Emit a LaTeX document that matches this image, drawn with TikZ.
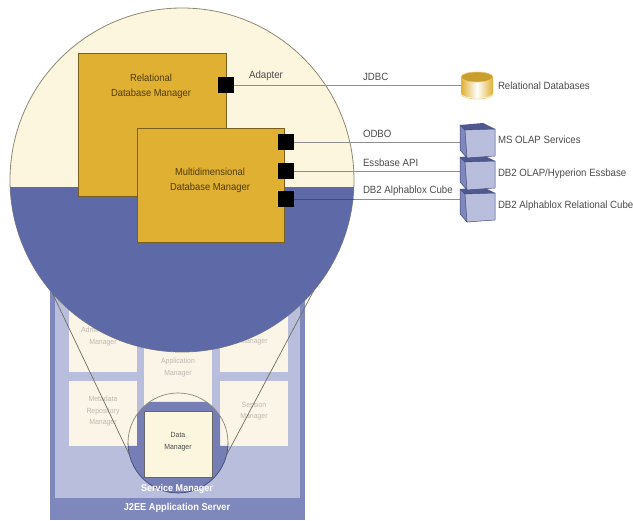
\documentclass[tikz,border=0pt]{standalone}
\usepackage{fontspec}
\setmainfont{Liberation Sans}[FakeStretch=0.92]
\usepackage{xcolor}
\definecolor{lensCream}{HTML}{FDF6DF}
\definecolor{lensBlue}{HTML}{5E69A8}
\definecolor{lensEdge}{HTML}{8C8A70}
\definecolor{mgrGold}{HTML}{E0B032}
\definecolor{mgrEdge}{HTML}{7A5F1E}
\definecolor{mgrInk}{HTML}{4F3C0C}
\definecolor{serverBlue}{HTML}{7F88BC}
\definecolor{serviceBlue}{HTML}{B9BEDC}
\definecolor{paleBox}{HTML}{FBF5E8}
\definecolor{paleInk}{HTML}{BDB8B0}
\definecolor{wireGray}{HTML}{8E8E8E}
\definecolor{labelInk}{HTML}{4A4A4A}
\usetikzlibrary{positioning}

\begin{document}
\begin{tikzpicture}[
  x=1pt, y=-1pt,
  every node/.style={inner sep=0pt, outer sep=0pt},
  manager/.style={rectangle, draw=mgrEdge, fill=mgrGold, line width=0.8pt, anchor=north west},
  mgrtext/.style={font=\fontsize{10.2}{15}\selectfont, text=mgrInk, align=center},
  port/.style={rectangle, fill=black, minimum size=16pt},
  wire/.style={draw=wireGray, line width=0.8pt},
  wirelabel/.style={font=\fontsize{10.5}{12}\selectfont, text=labelInk, anchor=west},
  storelabel/.style={font=\fontsize{10.5}{12}\selectfont, text=labelInk, anchor=west},
  palebox/.style={rectangle, fill=paleBox, anchor=north west},
  paletext/.style={font=\fontsize{7.5}{11.5}\selectfont, text=paleInk, align=center},
  lensline/.style={draw=lensEdge!80!black, line width=0.7pt},
  server/.style={font=\fontsize{10}{12}\selectfont\bfseries, text=white},
  olapcube/.pic={
    \fill[serviceBlue] (5,5) -- (35,4) -- (35,31) -- (7,33) -- cycle;
    \fill[serverBlue] (0,0) -- (5,5) -- (7,33) -- (0,25) -- cycle;
    \fill[lensBlue!85!black] (0,0) -- (23,-2) -- (35,4) -- (5,5) -- cycle;
    \draw[lensBlue!70!black, line width=0.5pt] (0,0) -- (5,5) -- (7,33) -- (0,25) -- cycle
      (5,5) -- (35,4) -- (35,31) -- (7,33);
  },
]
\useasboundingbox (0,0) rectangle (633,521);

% Application server with its manager boxes
\fill[serverBlue] (50,270) rectangle (305,520);
\fill[serviceBlue] (55,270) rectangle (300,498);
\node[server] (j2ee) at (177,508) {J2EE Application Server};

\node[palebox, minimum width=68pt, minimum height=72pt] (admin) at (69,300) {};
\node[palebox, minimum width=68pt, minimum height=110pt] (appl) at (144,300) {};
\node[palebox, minimum width=68pt, minimum height=72pt] (user) at (220,300) {};
\node[palebox, minimum width=68pt, minimum height=65pt] (meta) at (69,381) {};
\node[palebox, minimum width=68pt, minimum height=65pt] (sess) at (220,381) {};
\node[paletext] (adminText) at (103,336.5) {Administration\\Manager};
\node[paletext] (applText) at (178,367.5) {Application\\Manager};
\node[paletext] (userText) at (254,342) {Manager};
\node[paletext] (metaText) at (103,411.5) {Metadata\\Repository\\Manager};
\node[paletext] (sessText) at (254,411) {Session\\Manager};

% Small lens round the data manager
\node[circle, minimum size=100pt] (dataLens) at (178,443) {};
\begin{scope}
  \clip (178,443) circle (50);
  \fill[serverBlue!70!lensBlue] (137,402) -- (220,402) -- (220,446) -- (240,446)
    -- (240,500) -- (116,500) -- (116,446) -- (137,446) -- cycle;
\end{scope}
\node[rectangle, draw=black!60, fill=lensCream, line width=0.5pt, anchor=north west,
      minimum width=68pt, minimum height=66pt] (data) at (144,411) {};
\node[font=\fontsize{7.5}{11.5}\selectfont, text=black!70, align=center] (dataText)
      at (178,441.5) {Data\\Manager};
\draw[lensline, draw=lensEdge] (dataLens.180) arc (180:360:50);
\draw[lensline, draw=lensBlue!70!black] (dataLens.180) arc (180:0:50);
\node[server, font=\fontsize{9.8}{12}\selectfont\bfseries] (service) at (177,489) {Service Manager};

% Big lens, upper half cream and lower half blue
\node[circle, draw=lensEdge, fill=lensCream, line width=0.8pt, minimum size=344pt] (bigLens) at (182,180) {};
\begin{scope}
  \clip (182,180) circle (172);
  \fill[lensBlue] (0,187) rectangle (360,360);
\end{scope}
\draw[lensline] (bigLens.221) -- (dataLens.194);
\draw[lensline] (bigLens.320) -- (dataLens.346);

% Stores on the right
\coordinate (cubeA) at (460,125);
\coordinate (cubeB) at (460,157);
\coordinate (cubeC) at (460,189);
\coordinate (relDb) at (461,85);

% Managers
\node[manager, minimum width=148pt, minimum height=143pt] (relMgr) at (78,53) {};
\node[manager, minimum width=147pt, minimum height=114pt] (multiMgr) at (137,128) {};
\node[mgrtext] (relText) at (151,86) {Relational\\Database Manager};
\node[mgrtext] (multiText) at (210,180) {Multidimensional\\Database Manager};

% Ports
\node[port] (adapter) at (226,85) {};
\node[port] (odbo) at (286,142) {};
\node[port] (essbase) at (286,171) {};
\node[port] (alpha) at (286,199.5) {};

% Wires
\draw[wire] (adapter) -- (relDb);
\draw[wire] (odbo) -- (odbo -| cubeA);
\draw[wire] (essbase) -- (essbase -| cubeB);
\draw[wire] (alpha) -- (alpha -| cubeC);
\draw[lensBlue!70!black, line width=0.8pt] (alpha) -- (alpha -| bigLens.east);

% Cylinder
\shade[left color=mgrGold, right color=mgrGold, middle color=white]
  (461,77) -- (461,93) arc (180:0:16 and 5) -- (493,77) -- cycle;
\draw[mgrGold!50!white, line width=0.8pt] (461,94) arc (180:0:16 and 5);
\fill[mgrGold!90!black, draw=mgrGold!70!white, line width=0.6pt] (477,77) ellipse (16 and 5);

% Cubes
\pic at (cubeC) {olapcube};
\pic at (cubeB) {olapcube};
\pic at (cubeA) {olapcube};

% Labels
\node[font=\fontsize{10.5}{12}\selectfont, text=labelInk] (adapterText) at (266,76) {Adapter};
\node[wirelabel] (jdbcText) at (363,77) {JDBC};
\node[wirelabel] (odboText) at (363,134) {ODBO};
\node[wirelabel] (essText) at (363,163) {Essbase API};
\node[wirelabel] (alphaText) at (363,191) {DB2 Alphablox Cube};
\node[storelabel] (relDbText) at (498,86) {Relational Databases};
\node[storelabel] (msText) at (498,140) {MS OLAP Services};
\node[storelabel] (hypText) at (498,174) {DB2 OLAP/Hyperion Essbase};
\node[storelabel] (cubeText) at (498,206) {DB2 Alphablox Relational Cube};

\end{tikzpicture}
\end{document}
